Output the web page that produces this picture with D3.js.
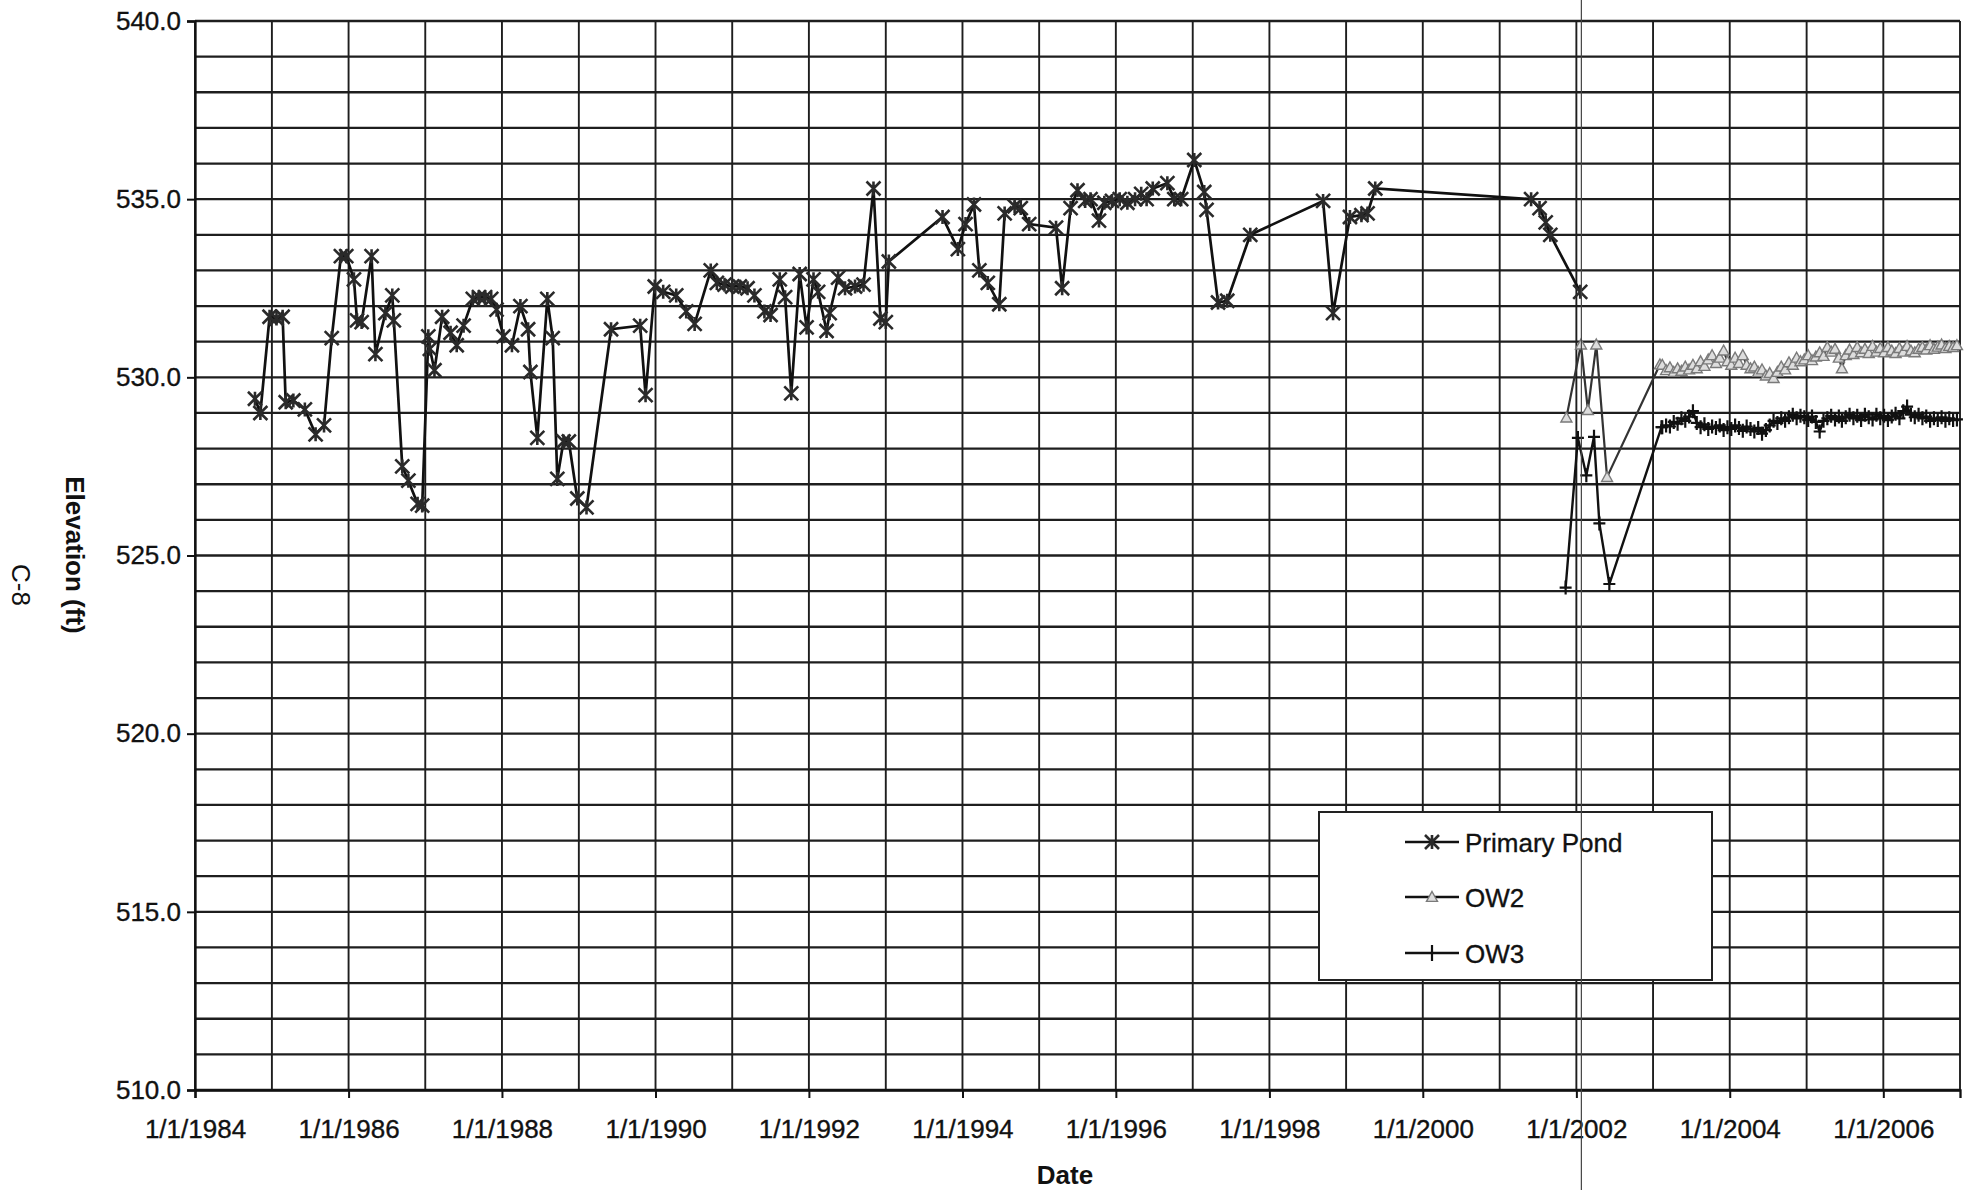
<!DOCTYPE html>
<html><head><meta charset="utf-8">
<script src="https://cdn.jsdelivr.net/npm/d3@7"></script>
<style>
html,body{margin:0;padding:0;background:#fff;}
svg{display:block;}
text{font-family:"Liberation Sans",Arial,sans-serif;fill:#111;}
</style></head>
<body>
<svg id="chart" width="1972" height="1190"></svg>
<script>
// ---- DATA (dates as decimal years) ----
const ppDates = [1984.78,1984.85,1984.97,1985.06,1985.14,1985.18,1985.28,1985.43,1985.57,1985.68,1985.78,1985.90,1985.97,1986.07,1986.11,1986.17,1986.30,1986.35,1986.48,1986.57,1986.59,1986.70,1986.78,1986.90,1986.96,1987.04,1987.06,1987.12,1987.22,1987.33,1987.41,1987.50,1987.62,1987.70,1987.78,1987.86,1987.93,1988.02,1988.13,1988.24,1988.34,1988.37,1988.46,1988.59,1988.66,1988.72,1988.80,1988.87,1988.98,1989.10,1989.42,1989.80,1989.87,1989.99,1990.10,1990.27,1990.40,1990.51,1990.72,1990.80,1990.90,1991.00,1991.10,1991.20,1991.29,1991.42,1991.50,1991.62,1991.69,1991.77,1991.88,1991.97,1992.06,1992.12,1992.23,1992.27,1992.38,1992.47,1992.60,1992.71,1992.84,1992.93,1993.00,1993.04,1993.74,1993.94,1994.04,1994.15,1994.22,1994.33,1994.48,1994.55,1994.68,1994.76,1994.87,1995.22,1995.30,1995.41,1995.50,1995.60,1995.67,1995.78,1995.85,1995.95,1996.05,1996.15,1996.25,1996.33,1996.40,1996.48,1996.67,1996.76,1996.85,1997.02,1997.15,1997.18,1997.33,1997.45,1997.75,1998.70,1998.83,1999.05,1999.20,1999.28,1999.38,2001.41,2001.52,2001.60,2001.66,2002.05];
const ppValues = [529.4,529.0,531.7,531.65,531.7,529.3,529.35,529.1,528.4,528.65,531.1,533.4,533.4,532.75,531.6,531.55,533.4,530.65,531.8,532.3,531.6,527.5,527.1,526.45,526.4,531.15,530.8,530.2,531.7,531.25,530.9,531.45,532.2,532.25,532.25,532.2,531.9,531.15,530.9,532.0,531.35,530.15,528.3,532.2,531.1,527.15,528.2,528.2,526.6,526.35,531.35,531.45,529.5,532.55,532.4,532.3,531.85,531.5,533.0,532.65,532.6,532.55,532.55,532.5,532.3,531.85,531.75,532.75,532.25,529.55,532.9,531.4,532.75,532.4,531.3,531.8,532.8,532.5,532.55,532.6,535.3,531.65,531.55,533.25,534.5,533.6,534.3,534.85,533.0,532.65,532.05,534.6,534.8,534.75,534.3,534.2,532.5,534.75,535.25,534.95,535.0,534.4,534.9,534.95,535.0,534.9,535.0,535.15,535.0,535.3,535.45,535.0,535.0,536.1,535.2,534.7,532.1,532.15,534.0,534.95,531.8,534.5,534.55,534.6,535.3,535.0,534.75,534.35,534.0,532.4];

const ow2Dates = [2001.87,2002.06,2002.15,2002.26,2002.40,2003.09,2003.12,2003.17,2003.22,2003.27,2003.32,2003.37,2003.42,2003.47,2003.52,2003.57,2003.62,2003.67,2003.72,2003.77,2003.82,2003.87,2003.92,2003.97,2004.02,2004.07,2004.12,2004.17,2004.22,2004.27,2004.32,2004.37,2004.42,2004.47,2004.52,2004.57,2004.62,2004.67,2004.72,2004.77,2004.82,2004.87,2004.92,2004.97,2005.02,2005.07,2005.12,2005.17,2005.22,2005.27,2005.32,2005.37,2005.42,2005.46,2005.51,2005.56,2005.61,2005.66,2005.71,2005.76,2005.81,2005.86,2005.91,2005.96,2006.01,2006.06,2006.11,2006.16,2006.21,2006.26,2006.31,2006.36,2006.41,2006.46,2006.51,2006.56,2006.61,2006.66,2006.71,2006.76,2006.81,2006.86,2006.91,2006.96];
const ow2Values = [528.87,530.92,529.08,530.92,527.2,530.36,530.35,530.20,530.28,530.15,530.25,530.18,530.30,530.22,530.35,530.25,530.45,530.32,530.50,530.62,530.40,530.55,530.75,530.45,530.35,530.55,530.40,530.62,530.35,530.25,530.30,530.15,530.22,530.05,530.12,529.98,530.15,530.30,530.22,530.42,530.35,530.55,530.45,530.50,530.62,530.48,530.58,530.70,530.60,530.85,530.72,530.80,530.55,530.25,530.62,530.78,530.65,530.85,530.70,530.80,530.68,530.88,530.72,530.82,530.70,530.85,530.75,530.68,530.82,530.72,530.88,530.75,530.70,530.80,530.85,530.78,530.90,530.80,530.86,530.92,530.82,530.88,530.85,530.90];

const ow3Dates = [2001.86,2002.02,2002.13,2002.23,2002.30,2002.43,2003.11,2003.12,2003.17,2003.22,2003.27,2003.32,2003.37,2003.42,2003.47,2003.52,2003.57,2003.62,2003.67,2003.72,2003.77,2003.82,2003.87,2003.92,2003.97,2004.02,2004.07,2004.12,2004.17,2004.22,2004.27,2004.32,2004.37,2004.42,2004.47,2004.52,2004.57,2004.62,2004.67,2004.72,2004.77,2004.82,2004.87,2004.92,2004.97,2005.02,2005.07,2005.12,2005.17,2005.22,2005.27,2005.32,2005.37,2005.42,2005.46,2005.51,2005.56,2005.61,2005.66,2005.71,2005.76,2005.81,2005.86,2005.91,2005.96,2006.01,2006.06,2006.11,2006.16,2006.21,2006.26,2006.31,2006.36,2006.41,2006.46,2006.51,2006.56,2006.61,2006.66,2006.71,2006.76,2006.81,2006.86,2006.91,2006.96];
const ow3Values = [524.1,528.3,527.25,528.33,525.9,524.2,528.6,528.60,528.65,528.62,528.75,528.70,528.85,528.78,528.90,529.05,528.72,528.60,528.68,528.55,528.62,528.58,528.65,528.52,528.60,528.55,528.65,528.58,528.50,528.62,528.55,528.48,528.58,528.42,528.52,528.65,528.78,528.72,528.85,528.78,528.88,528.95,528.85,528.92,528.88,528.80,528.90,528.75,528.48,528.78,528.85,528.92,528.82,528.90,528.78,528.88,528.95,528.85,528.92,528.80,528.95,528.88,528.82,528.95,528.85,528.92,528.80,528.90,528.98,528.85,529.05,529.18,528.95,528.88,528.95,528.85,528.90,528.78,528.85,528.80,528.88,528.78,528.85,528.80,528.82];

const yTicks = [510,515,520,525,530,535,540];
const xTickYears = [1984,1986,1988,1990,1992,1994,1996,1998,2000,2002,2004,2006];
const seriesNames = ["Primary Pond","OW2","OW3"];

// ---- helpers ----
function dy(v){const yr=Math.floor(v),f=v-yr;const a=new Date(yr,0,1),b=new Date(yr+1,0,1);return new Date(+a+f*(b-a));}
const zip=(ds,vs)=>ds.map((d,i)=>({t:dy(d),v:vs[i]}));
const pp=zip(ppDates,ppValues), ow2=zip(ow2Dates,ow2Values), ow3=zip(ow3Dates,ow3Values);

const L=195,R=1960,T=21,B=1090;
const svg=d3.select("#chart");
const x=d3.scaleTime().domain([new Date(1984,0,1),new Date(2007,0,1)]).range([L,R]);
const y=d3.scaleLinear().domain([510,540]).range([B,T]);

// gridlines
const g=svg.append("g");
g.selectAll("line.h").data(d3.range(510,541,1)).join("line")
 .attr("x1",L).attr("x2",R).attr("y1",d=>y(d)).attr("y2",d=>y(d))
 .attr("stroke","#1e1e1e").attr("stroke-width",2.3);
g.selectAll("line.v").data(d3.range(1984,2008,1)).join("line")
 .attr("x1",d=>x(new Date(d,0,1))).attr("x2",d=>x(new Date(d,0,1))).attr("y1",T).attr("y2",B)
 .attr("stroke","#1e1e1e").attr("stroke-width",1.9);

// axes
const ya=svg.append("g").attr("transform",`translate(${L},0)`)
 .call(d3.axisLeft(y).tickValues(yTicks).tickFormat(d3.format(".1f")).tickSize(8).tickPadding(6));
const xa=svg.append("g").attr("transform",`translate(0,${B})`)
 .call(d3.axisBottom(x).tickValues(xTickYears.map(v=>new Date(v,0,1))).tickFormat(d=>"1/1/"+d.getFullYear()).tickSize(8).tickPadding(22));
[ya,xa].forEach(a=>{
 a.select(".domain").attr("stroke","#111").attr("stroke-width",2.3);
 a.selectAll(".tick line").attr("stroke","#111").attr("stroke-width",2);
 a.selectAll(".tick text").attr("font-size",26).attr("fill","#111")
  .attr("stroke","#111").attr("stroke-width",0.35)
  .style("font-family",'"Liberation Sans",Arial,sans-serif');
});

// titles
svg.append("text").attr("x",1065).attr("y",1184).attr("text-anchor","middle")
 .attr("font-size",26).attr("font-weight","bold").text("Date");
svg.append("text").attr("transform","translate(66,555) rotate(90)").attr("text-anchor","middle")
 .attr("font-size",26).attr("font-weight","bold").text("Elevation (ft)");
svg.append("text").attr("transform","translate(12,585) rotate(90)").attr("text-anchor","middle")
 .attr("font-size",26).text("C-8");

// markers
const starPath=s=>`M${-s},${-s}L${s},${s}M${-s},${s}L${s},${-s}M0,${-s}L0,${s}`;
const triPath=s=>`M0,${-s}L${s},${s*0.8}L${-s},${s*0.8}Z`;
const plusPath=(w,h)=>`M${-w},0L${w},0M0,${-h}L0,${h}`;

const line=d3.line().x(d=>x(d.t)).y(d=>y(d.v));

// OW2
svg.append("path").datum(ow2).attr("d",line).attr("fill","none").attr("stroke","#333").attr("stroke-width",2.2);
svg.append("g").selectAll("path").data(ow2).join("path")
 .attr("transform",d=>`translate(${x(d.t)},${y(d.v)})`).attr("d",triPath(5.5))
 .attr("fill","#ddd").attr("stroke","#7a7a7a").attr("stroke-width",1.4);
// OW3
svg.append("path").datum(ow3).attr("d",line).attr("fill","none").attr("stroke","#111").attr("stroke-width",2.4);
svg.append("g").selectAll("path").data(ow3).join("path")
 .attr("transform",d=>`translate(${x(d.t)},${y(d.v)})`).attr("d",plusPath(6,7))
 .attr("fill","none").attr("stroke","#111").attr("stroke-width",2.2);
// Primary Pond
svg.append("path").datum(pp).attr("d",line).attr("fill","none").attr("stroke","#111").attr("stroke-width",2.7);
svg.append("g").selectAll("path").data(pp).join("path")
 .attr("transform",d=>`translate(${x(d.t)},${y(d.v)})`).attr("d",starPath(7))
 .attr("fill","none").attr("stroke","#2a2a2a").attr("stroke-width",2.6);

// legend
const lg=svg.append("g");
lg.append("rect").attr("x",1319).attr("y",812).attr("width",393).attr("height",168)
 .attr("fill","#fff").attr("stroke","#222").attr("stroke-width",2);
const rowsY=[842,897,953];
seriesNames.forEach((n,i)=>{
 const yy=rowsY[i];
 lg.append("line").attr("x1",1405).attr("x2",1459).attr("y1",yy).attr("y2",yy).attr("stroke","#111").attr("stroke-width",2.4);
 const m=lg.append("path").attr("transform",`translate(1432,${yy})`);
 if(i===0) m.attr("d",starPath(7)).attr("fill","none").attr("stroke","#2a2a2a").attr("stroke-width",2.6);
 if(i===1) m.attr("d",triPath(5.5)).attr("fill","#ddd").attr("stroke","#7a7a7a").attr("stroke-width",1.4);
 if(i===2) m.attr("d",plusPath(0,8)).attr("fill","none").attr("stroke","#111").attr("stroke-width",2.2);
 lg.append("text").attr("x",1465).attr("y",yy+9.5).attr("font-size",26)
  .attr("stroke","#111").attr("stroke-width",0.35).text(n);
});

// scan artifact: thin vertical line through the page
const ax=x(new Date(2002,0,1))+5;
svg.append("line").attr("x1",ax).attr("x2",ax).attr("y1",0).attr("y2",1190).attr("stroke","#444").attr("stroke-width",1.2);
</script>
</body></html>
